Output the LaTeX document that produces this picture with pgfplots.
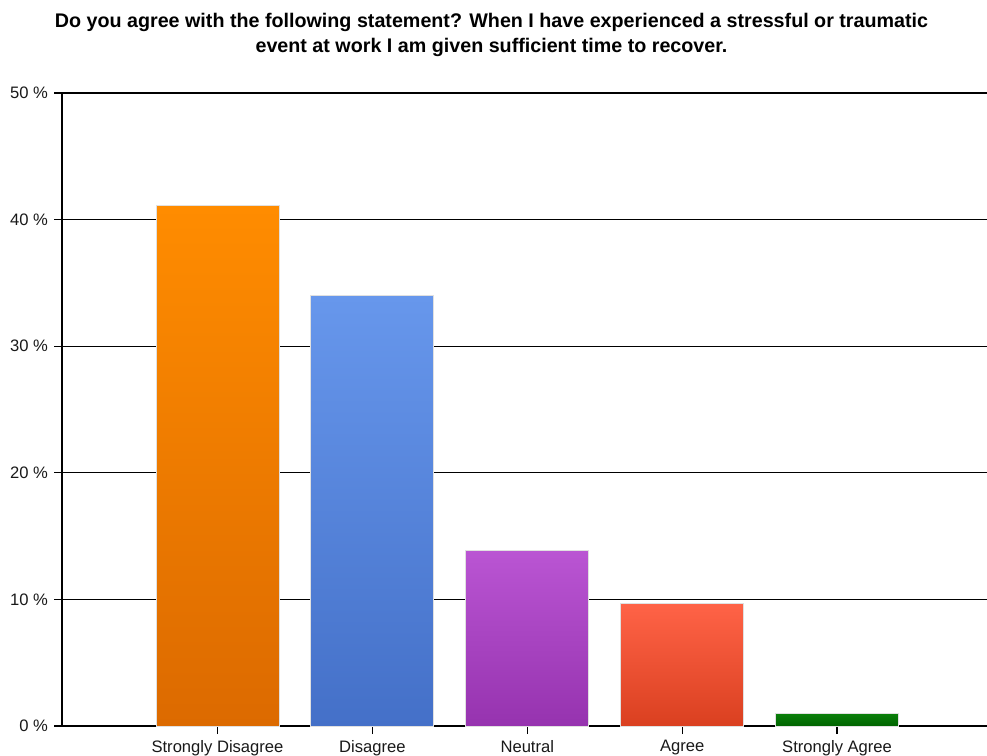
\documentclass[border=0pt]{standalone}
\usepackage{pgfplots}
\pgfplotsset{compat=1.18}
\usepackage{fontspec}
\setmainfont{Liberation Sans}
\definecolor{orT}{HTML}{FF8C00}\definecolor{orB}{HTML}{DC6A00}
\definecolor{blT}{HTML}{6797EC}\definecolor{blB}{HTML}{4470C8}
\definecolor{puT}{HTML}{BA55D3}\definecolor{puB}{HTML}{9633AF}
\definecolor{reT}{HTML}{FF6347}\definecolor{reB}{HTML}{DA4020}
\definecolor{grT}{HTML}{0A800A}\definecolor{grB}{HTML}{006400}
\begin{document}
\begin{tikzpicture}
\begin{axis}[
  scale only axis,
  width=462.5pt, height=316.5pt,
  xmin=-1.004, xmax=4.968,
  ymin=0, ymax=50,
  axis lines=left,
  axis line style={-, black, line width=0.65pt},
  xtick={0,1,2,3,4},
  xticklabels={Strongly Disagree, Disagree, Neutral, Agree, Strongly Agree},
  ytick={0,10,20,30,40,50},
  yticklabels={0 \%,10 \%,20 \%,30 \%,40 \%,50 \%},
  tick align=outside,
  major tick length=4pt,
  tick style={black, line width=0.6pt},
  ymajorgrids,
  grid style={black, line width=0.65pt},
  ticklabel style={font=\fontsize{8.3}{9}\selectfont, text=black!90},
  xticklabel style={yshift=0.5pt},
  yticklabel style={xshift=0.5pt},
  clip=false,
]
\addplot[ybar, bar width=61.5pt, bar shift=0pt, draw=black!12, line width=0.5pt, top color=orT, bottom color=orB] coordinates {(0,41.1)};
\addplot[ybar, bar width=61.5pt, bar shift=0pt, draw=black!12, line width=0.5pt, top color=blT, bottom color=blB] coordinates {(1,34.0)};
\addplot[ybar, bar width=61.5pt, bar shift=0pt, draw=black!12, line width=0.5pt, top color=puT, bottom color=puB] coordinates {(2,13.9)};
\addplot[ybar, bar width=61.5pt, bar shift=0pt, draw=black!12, line width=0.5pt, top color=reT, bottom color=reB] coordinates {(3,9.7)};
\addplot[ybar, bar width=61.5pt, bar shift=0pt, draw=black!12, line width=0.5pt, top color=grT, bottom color=grB] coordinates {(4,1.0)};
\end{axis}
\node[anchor=north, align=center, inner sep=0pt, font=\bfseries\fontsize{9.85}{12.5}\selectfont] at ([xshift=214.75pt,yshift=40pt]current axis.north west) {Do you agree with the following statement? When I have experienced a stressful or traumatic\\event at work I am given sufficient time to recover.};
\pgfresetboundingbox
\path ([xshift=-31pt,yshift=-14.5pt]current axis.south west) rectangle ([yshift=46.5pt]current axis.north east);
\end{tikzpicture}
\end{document}
